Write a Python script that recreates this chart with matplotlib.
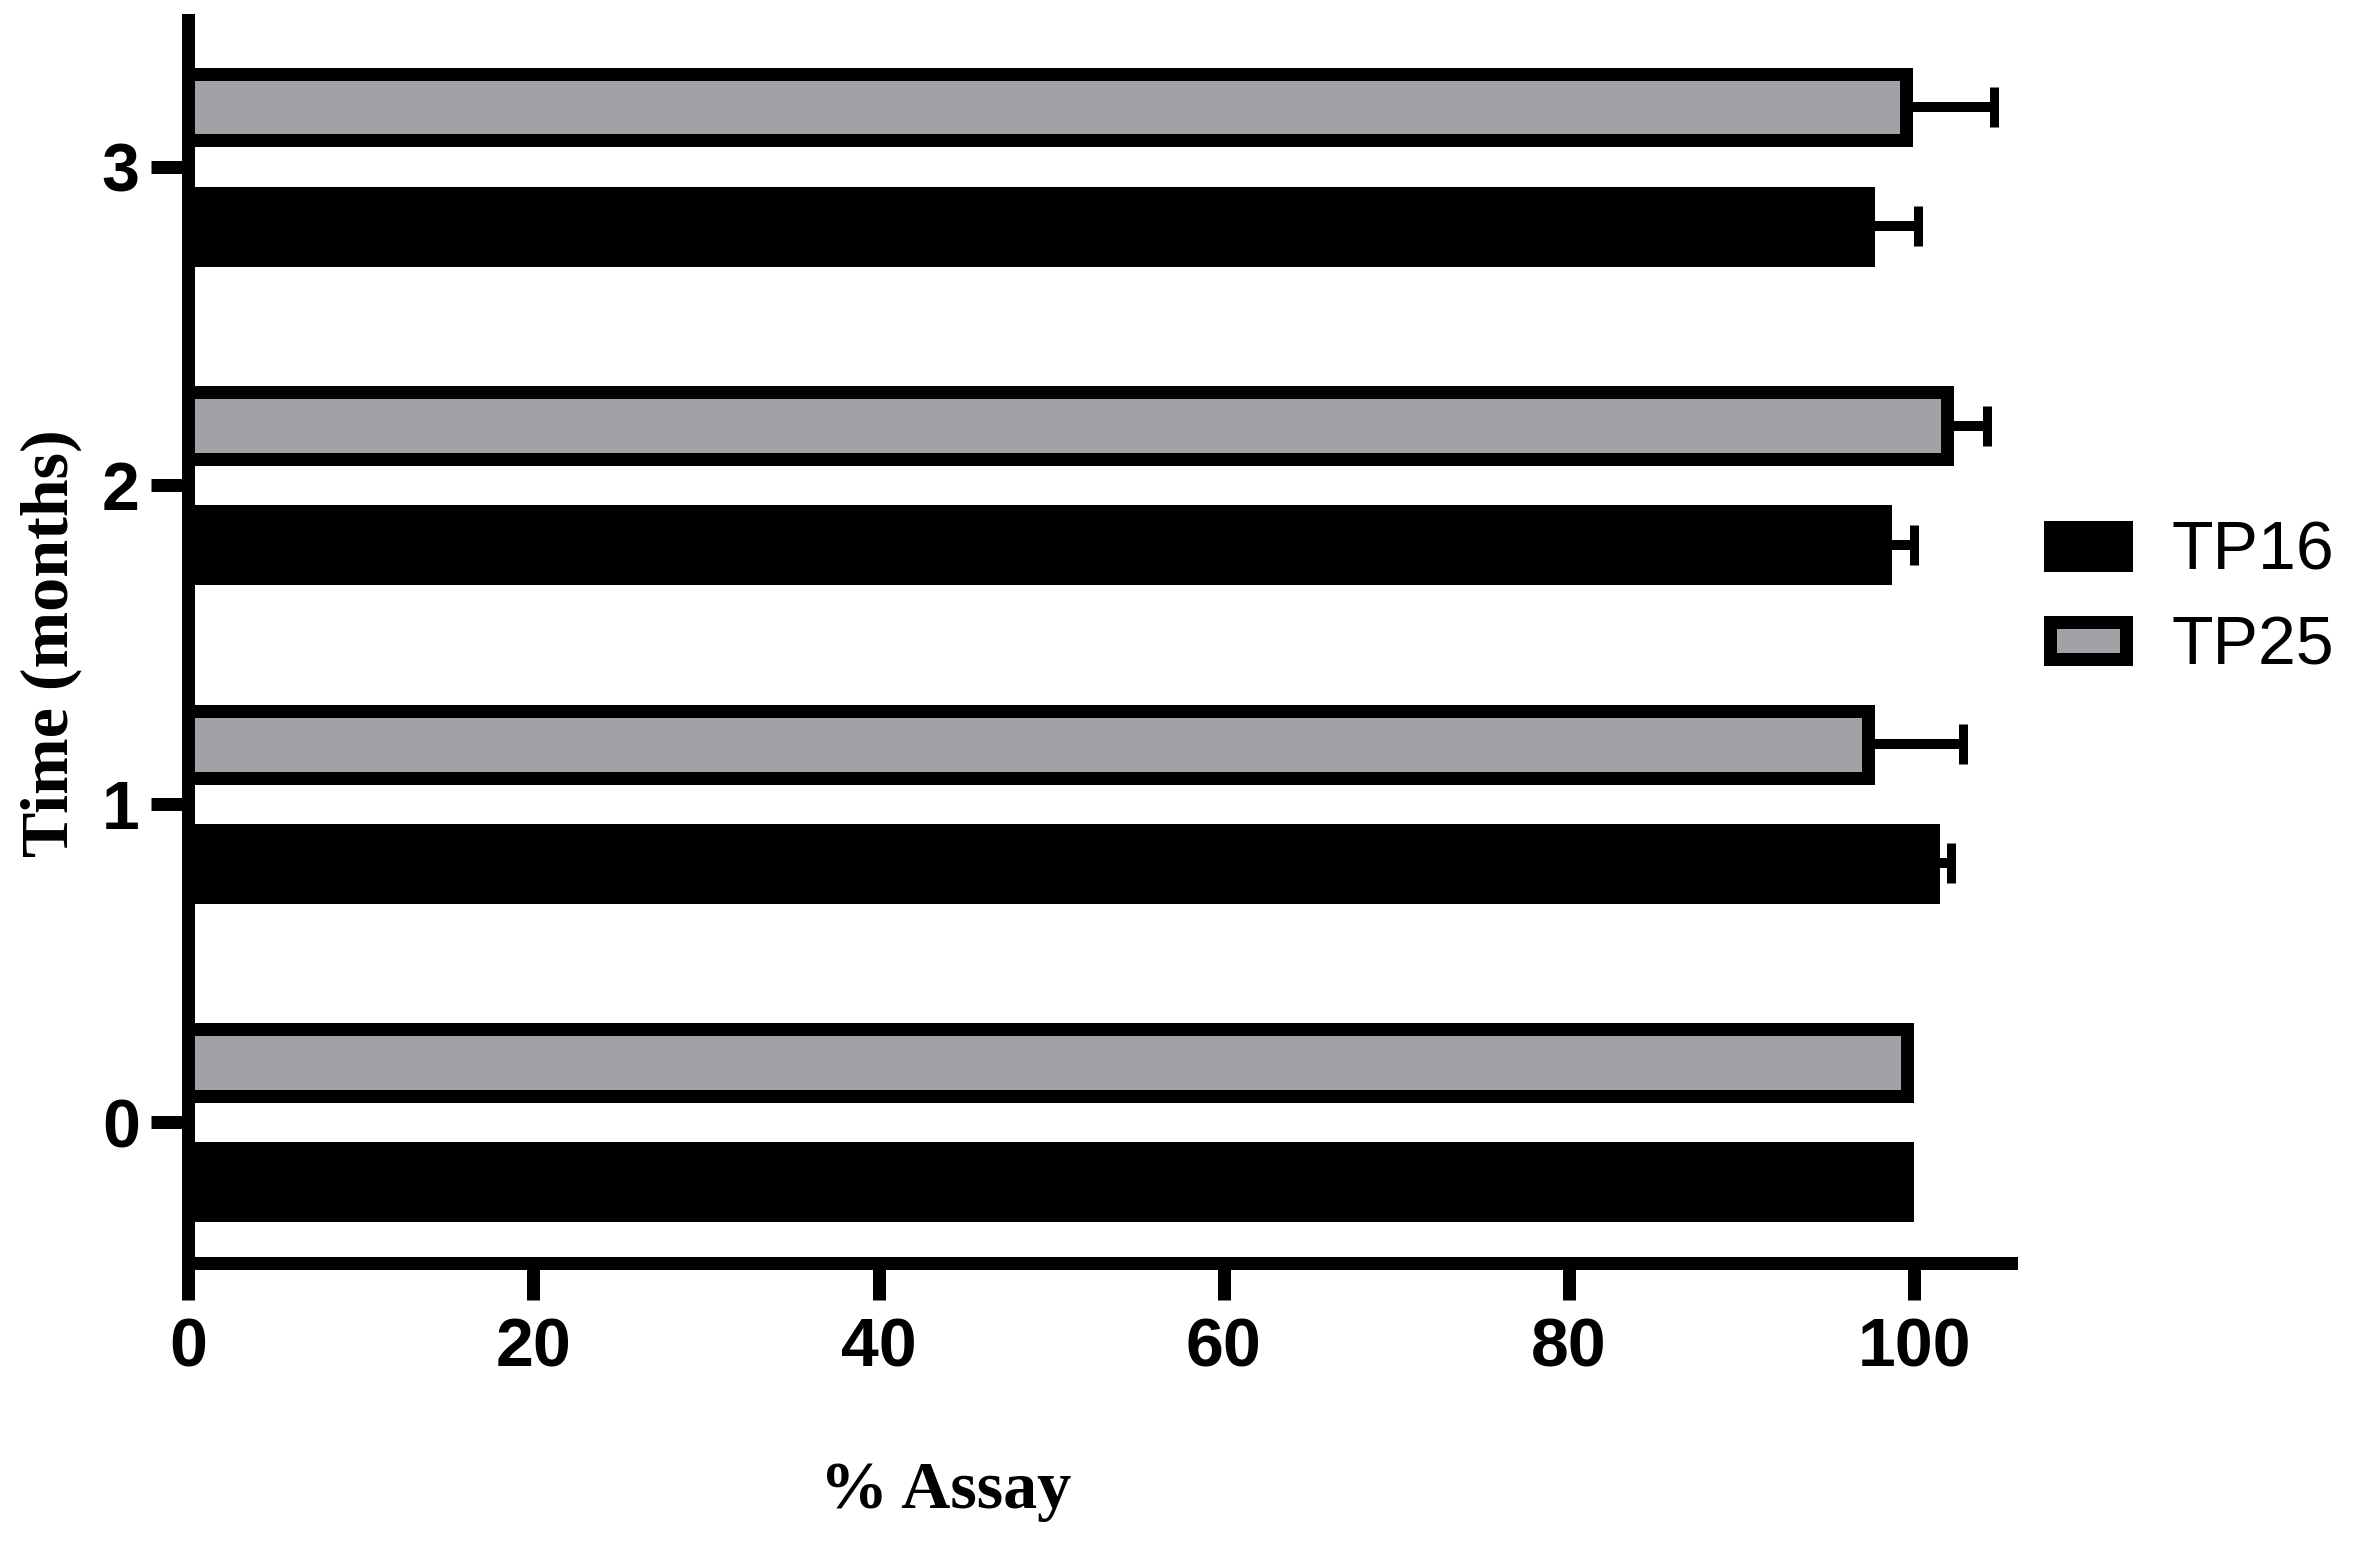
import matplotlib
matplotlib.use("Agg")
import matplotlib.pyplot as plt
import numpy as np

# ---- data ----
months = [0, 1, 2, 3]
month_labels = ["0", "1", "2", "3"]
series_names = ["TP16", "TP25"]
tp16 = [99.6, 101.1, 98.3, 97.3]
tp16_err = [0.0, 1.0, 1.7, 2.9]
tp25 = [99.6, 97.3, 101.9, 99.5]
tp25_err = [0.0, 5.5, 2.3, 5.1]
x_ticks = [0, 20, 40, 60, 80, 100]

DPI = 200
px = 72.0 / DPI  # points per pixel

fig = plt.figure(figsize=(2354 / DPI, 1548 / DPI), dpi=DPI)
ax = fig.add_axes([188 / 2354, 1 - 1262.5 / 1548, (2011 - 188) / 2354, (1262.5 - 20) / 1548])

gray = "#a2a1a6"
lw = 13 * px
offset = 0.187
h = 0.21

y = np.array(months, dtype=float)
ax.barh(y - offset, tp16, height=h, color="black", edgecolor="black", linewidth=lw, zorder=2, label=series_names[0])
ax.barh(y + offset, tp25, height=h, color=gray, edgecolor="black", linewidth=lw, zorder=2, label=series_names[1])

err_kw = dict(fmt="none", ecolor="black", elinewidth=10 * px, capsize=20 * px, capthick=9 * px, zorder=1)
ax.errorbar(tp16, y - offset, xerr=[np.zeros(len(tp16_err)), tp16_err], **err_kw)
ax.errorbar(tp25, y + offset, xerr=[np.zeros(len(tp25_err)), tp25_err], **err_kw)

ax.set_xlim(0, 105.6)
ax.set_ylim(-0.44, 3.46)
ax.set_xticks(x_ticks)
ax.set_yticks(months)
ax.set_yticklabels(month_labels)

for s in ["top", "right"]:
    ax.spines[s].set_visible(False)
for s in ["left", "bottom"]:
    ax.spines[s].set_linewidth(lw)
    ax.spines[s].set_capstyle("projecting")

ax.tick_params(axis="both", length=37 * px, width=lw, color="black")
ax.tick_params(axis="x", pad=6)
ax.tick_params(axis="y", pad=4)
for lab in ax.get_xticklabels() + ax.get_yticklabels():
    lab.set_fontfamily("Liberation Sans")
    lab.set_fontweight("bold")
    lab.set_fontsize(24.5)

label_font = dict(family="Liberation Serif", weight="bold", size=24.5)
fig.text(946 / 2354, 1 - 1492 / 1548, "% Assay", ha="center", va="center", **label_font)
fig.text(51 / 2354, 1 - 643 / 1548, "Time (months)", ha="center", va="center", rotation=90, **label_font)

handles, labels = ax.get_legend_handles_labels()
leg = fig.legend(handles, labels, loc="upper left", bbox_to_anchor=(2050 / 2354, 1 - 520 / 1548),
                 frameon=False, borderpad=0, borderaxespad=0,
                 prop=dict(family="Liberation Sans", size=24.5),
                 handlelength=1.12, handleheight=0.47, handletextpad=0.66, labelspacing=0.45)

fig.savefig("out.png", dpi=DPI, facecolor="white")
